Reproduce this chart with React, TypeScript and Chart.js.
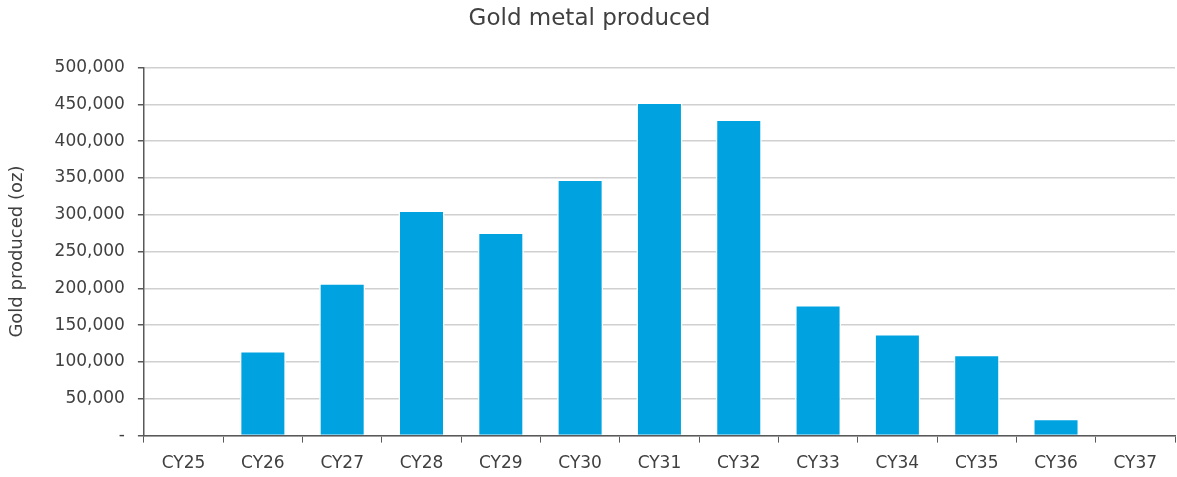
import React, { useEffect, useRef } from "react";
import { Chart, registerables } from "chart.js";

Chart.register(...registerables);

const categories = ["CY25", "CY26", "CY27", "CY28", "CY29", "CY30", "CY31", "CY32", "CY33", "CY34", "CY35", "CY36", "CY37"];
const goldProduced = [0, 115000, 207000, 306000, 276000, 348000, 452500, 429500, 177500, 138000, 110000, 23000, 0];
const yTicks = [0, 50000, 100000, 150000, 200000, 250000, 300000, 350000, 400000, 450000, 500000];

const FONT = "'DejaVu Sans', sans-serif";
const TEXT = "#404040";
const AXIS = "#595959";

export default function App() {
  const ref = useRef<HTMLCanvasElement | null>(null);
  useEffect(() => {
    if (!ref.current) return;
    const chart = new Chart(ref.current, {
      type: "bar",
      data: {
        labels: categories,
        datasets: [
          {
            label: "Gold produced (oz)",
            data: goldProduced,
            backgroundColor: "#00A3E0",
            borderColor: "#ffffff",
            borderWidth: 1.5,
            barPercentage: 0.58,
            categoryPercentage: 1,
          },
        ],
      },
      options: {
        animation: false,
        responsive: false,
        devicePixelRatio: 1,
        layout: { padding: { left: 4, right: 2, top: 0, bottom: 0 } },
        plugins: {
          legend: { display: false },
          tooltip: { enabled: false },
          title: {
            display: true,
            text: "Gold metal produced",
            color: TEXT,
            font: { family: FONT, size: 23, weight: "normal" },
            padding: { top: 5, bottom: 35 },
          },
        },
        scales: {
          x: {
            offset: true,
            grid: {
              offset: true,
              drawOnChartArea: false,
              drawTicks: true,
              tickLength: 7,
              color: AXIS,
              tickColor: AXIS,
            },
            border: { display: true, color: AXIS, width: 1.5 },
            ticks: { color: TEXT, font: { family: FONT, size: 17 }, padding: 11 },
          },
          y: {
            min: 0,
            max: 500000,
            afterBuildTicks: (scale: any) => {
              scale.ticks = yTicks.map((v) => ({ value: v }));
            },
            grid: {
              color: "#d0d0d0",
              lineWidth: 1.5,
              tickLength: 6,
              tickColor: AXIS,
            },
            border: { display: true, color: AXIS, width: 1.5 },
            ticks: {
              color: TEXT,
              font: { family: FONT, size: 17 },
              padding: 13,
              callback: (v: any) => (Number(v) === 0 ? "-" : Number(v).toLocaleString("en-US")),
            },
            title: {
              display: true,
              text: "Gold produced (oz)",
              color: TEXT,
              font: { family: FONT, size: 18 },
              padding: { top: 3, bottom: 13 },
            },
          },
        },
      },
    });
    return () => chart.destroy();
  }, []);
  return (
    <div style={{ position: "fixed", left: 0, top: 0, width: 1177, height: 477, overflow: "hidden", background: "#fff" }}>
      <canvas ref={ref} width={1177} height={485} style={{ display: "block", width: 1177, height: 485 }} />
    </div>
  );
}
